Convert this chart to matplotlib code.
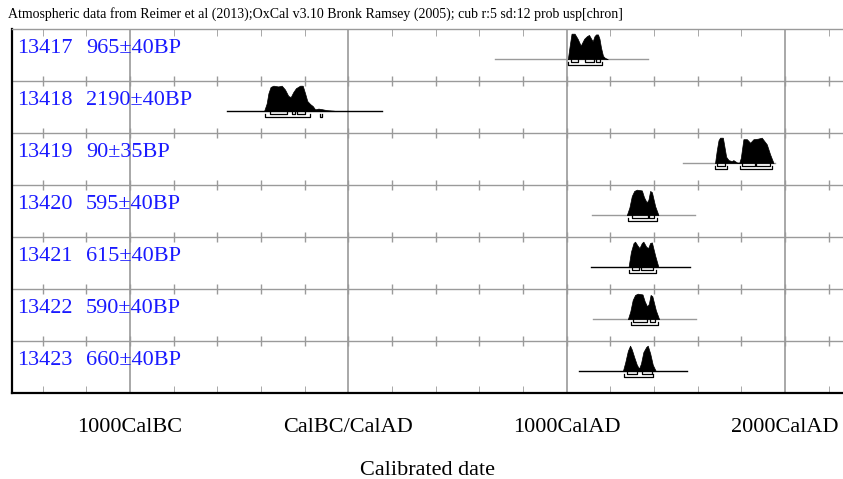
import matplotlib
matplotlib.use('agg')
import matplotlib.pyplot as plt
import matplotlib.transforms as mtransforms
import numpy as np

# OxCal multiplot: 7 radiocarbon dates, calibrated
lab_ids = ['13417', '13418', '13419', '13420', '13421', '13422', '13423']
bp_labels = ['965\u00b140BP', '2190\u00b140BP', '90\u00b135BP', '595\u00b140BP',
             '615\u00b140BP', '590\u00b140BP', '660\u00b140BP']

# posterior distributions: calendar year (AD, negative = BC) and relative height
prob_years = [
    [1005, 1014, 1022, 1036, 1050, 1064, 1080, 1092, 1102, 1112, 1119, 1127, 1134, 1143, 1150, 1157, 1166, 1175, 1188],
    [-386, -374, -366, -356, -343, -321, -305, -290, -275, -264, -252, -240, -221, -209, -198, -188, -175, -163, -152, -137, -122, -99, -69, -53],
    [1679, 1687, 1695, 1702, 1715, 1721, 1730, 1741, 1756, 1763, 1779, 1790, 1797, 1809, 1825, 1840, 1855, 1875, 1893, 1916, 1931, 1947],
    [1275, 1287, 1298, 1309, 1321, 1344, 1354, 1366, 1374, 1382, 1390, 1405, 1420],
    [1283, 1294, 1306, 1313, 1324, 1333, 1344, 1351, 1364, 1373, 1382, 1390, 1405, 1420],
    [1280, 1291, 1302, 1313, 1325, 1347, 1357, 1368, 1376, 1384, 1392, 1408, 1423],
    [1257, 1268, 1280, 1290, 1298, 1309, 1321, 1331, 1340, 1351, 1364, 1371, 1382, 1394, 1408],
]
prob_heights = [
    [0.0, 0.55, 1.0, 1.0, 0.8, 0.53, 0.8, 0.9, 0.95, 0.8, 0.7, 0.9, 0.97, 0.97, 0.8, 0.45, 0.13, 0.05, 0.0],
    [0.0, 0.3, 0.7, 0.95, 1.0, 0.97, 1.0, 0.85, 0.6, 0.55, 0.75, 0.9, 1.0, 1.0, 0.7, 0.4, 0.28, 0.2, 0.07, 0.1, 0.08, 0.04, 0.02, 0.0],
    [0.0, 0.5, 0.9, 1.0, 1.0, 0.7, 0.25, 0.12, 0.08, 0.12, 0.03, 0.02, 0.2, 0.94, 0.94, 0.8, 0.94, 0.96, 1.0, 0.74, 0.35, 0.0],
    [0.0, 0.3, 0.75, 0.95, 1.0, 0.97, 0.7, 0.5, 0.6, 0.95, 0.9, 0.35, 0.0],
    [0.0, 0.6, 0.95, 1.0, 0.85, 0.75, 0.95, 1.0, 0.8, 0.75, 0.95, 0.97, 0.45, 0.0],
    [0.0, 0.3, 0.75, 0.95, 1.0, 0.97, 0.7, 0.5, 0.6, 0.95, 0.9, 0.35, 0.0],
    [0.0, 0.35, 0.8, 1.0, 0.85, 0.55, 0.25, 0.1, 0.3, 0.75, 0.95, 1.0, 0.7, 0.25, 0.0],
]

# calibration range lines (start, end) and colour of each
range_lines = [(672, 1372), (-556, 154), (1533, 1954), (1116, 1588), (1112, 1565), (1121, 1592), (1057, 1551)]
range_dark = [False, True, False, False, True, False, True]

# 68.2% and 95.4% ranges
ranges_68 = [
    [(1020, 1050), (1082, 1126), (1134, 1152)],
    [(-358, -279), (-259, -244), (-235, -197)],
    [(1687, 1725), (1802, 1863), (1865, 1931)],
    [(1298, 1374), (1378, 1400)],
    [(1298, 1330), (1338, 1397)],
    [(1302, 1368), (1382, 1406)],
    [(1275, 1321), (1344, 1390)],
]
ranges_95 = [
    [(1005, 1162)],
    [(-381, -176), (-131, -121)],
    [(1680, 1733), (1794, 1939)],
    [(1282, 1413)],
    [(1286, 1407)],
    [(1293, 1419)],
    [(1263, 1396)],
]

major_years = [-1000, 0, 1000, 2000]
major_labels = ['1000CalBC', 'CalBC/CalAD', '1000CalAD', '2000CalAD']
minor_years = np.arange(-1400, 2201, 200)

title = ('Atmospheric data from Reimer et al (2013);OxCal v3.10 Bronk Ramsey (2005); '
         'cub r:5 sd:12 prob usp[chron]')

W, H = 843, 479
fig = plt.figure(figsize=(W / 100, H / 100), dpi=100)
ax = fig.add_axes([12 / W, (H - 393) / H, (W - 12) / W, (393 - 29) / H])

serif = 'Liberation Serif'
grey = '#9a9a9a'
n = len(lab_ids)
row_px = (393 - 29) / n
px = 1.0 / row_px  # one pixel in row units

ax.set_xlim(-1540, 2265)
ax.set_ylim(n, 0)

for k in range(1, n):
    ax.axhline(k, color=grey, lw=1.0, zorder=1)
for yr in major_years:
    ax.axvline(yr, color=grey, lw=1.2, zorder=1)
# small ticks on the row separators
for k in range(1, n):
    ax.vlines(minor_years, k - 5 * px, k + 5 * px, color=grey, lw=1.0, zorder=1)

name_tr = mtransforms.blended_transform_factory(ax.transAxes, ax.transData)
for i in range(n):
    base = i + 0.58
    yrs = np.array(prob_years[i])
    hts = np.array(prob_heights[i]) * 0.49
    lc = 'black' if range_dark[i] else grey
    ax.plot(range_lines[i], [base, base], color=lc, lw=1.0, zorder=2)
    ax.fill_between(yrs, base, base - hts, color='black', lw=0.5, zorder=3)
    for a, b in ranges_68[i]:
        ax.plot([a, a, b, b], [base, base + 3 * px, base + 3 * px, base], color='black', lw=0.9, zorder=4)
    for a, b in ranges_95[i]:
        ax.plot([a, a, b, b], [base + 3 * px, base + 6 * px, base + 6 * px, base + 3 * px],
                color='black', lw=0.9, zorder=4)
    ax.text(0.006, i + 0.37, lab_ids[i], transform=name_tr, color='#1a1aff',
            fontsize=16, family=serif, va='center', ha='left')
    ax.text(0.089, i + 0.37, bp_labels[i], transform=name_tr, color='#1a1aff',
            fontsize=16, family=serif, va='center', ha='left')

ax.set_yticks([])
ax.set_xticks(major_years, major_labels, fontsize=16, family=serif)
ax.set_xticks(minor_years, minor=True)
ax.tick_params(axis='x', which='major', length=0, pad=18)
ax.tick_params(axis='x', which='minor', direction='in', length=5, top=True, bottom=True, color=grey)

for side in ['left', 'bottom']:
    ax.spines[side].set_color('black')
    ax.spines[side].set_linewidth(1.6)
ax.spines['top'].set_color(grey)
ax.spines['top'].set_linewidth(1.0)
ax.spines['right'].set_visible(False)

ax.set_xlabel('Calibrated date', fontsize=16, family=serif, labelpad=17)
fig.text(8 / W, 1 - 14 / H, title, fontsize=10, family=serif, va='center', ha='left')

fig.savefig('out.png', dpi=100)
